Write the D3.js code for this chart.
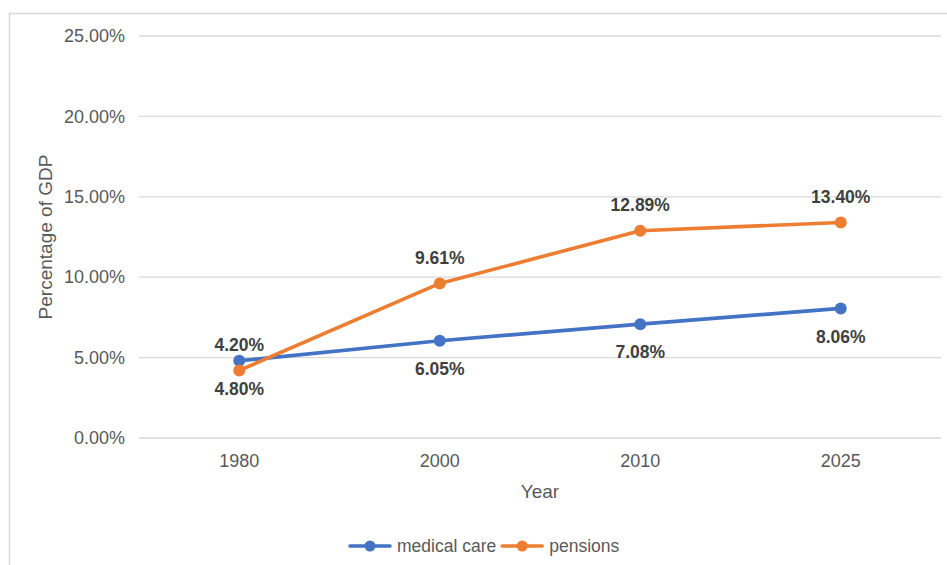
<!DOCTYPE html>
<html>
<head>
<meta charset="utf-8">
<script src="https://cdn.jsdelivr.net/npm/d3@7"></script>
<style>
  html, body { margin: 0; padding: 0; background: #fff; }
  svg { display: block; font-family: "Liberation Sans", Arial, Helvetica, sans-serif; }
</style>
</head>
<body>
<svg id="chart" width="947" height="565"></svg>
<script>
// Years on the category axis
const years = ["1980", "2000", "2010", "2025"];
// Share of GDP per series
const medicalCare = [0.0480, 0.0605, 0.0708, 0.0806];
const pensions = [0.0420, 0.0961, 0.1289, 0.1340];
// Value axis ticks
const yTicks = [0, 0.05, 0.10, 0.15, 0.20, 0.25];

const series = [
  { name: "medical care", values: medicalCare, color: "#4472C4", labelDy: 28 },
  { name: "pensions", values: pensions, color: "#ED7D31", labelDy: -26 }
];

const svg = d3.select("#chart");
const W = 947, H = 565;

// Chart frame (left and top edges show inside the window)
svg.append("path")
  .attr("d", `M9.5,${H} V13.5 H${W}`)
  .attr("fill", "none")
  .attr("stroke", "#D9D9D9")
  .attr("stroke-width", 1.5);

const plot = { left: 139, right: 941, top: 36, bottom: 438 };

const x = d3.scaleBand().domain(years).range([plot.left, plot.right]);
const y = d3.scaleLinear().domain([0, 0.25]).range([plot.bottom, plot.top]);
const fmt = d3.format(".2%");

// Horizontal gridlines
svg.append("g")
  .selectAll("line")
  .data(yTicks)
  .join("line")
  .attr("x1", plot.left).attr("x2", plot.right)
  .attr("y1", d => y(d)).attr("y2", d => y(d))
  .attr("stroke", "#D9D9D9")
  .attr("stroke-width", 1.3);

// Value axis labels
const yAxis = svg.append("g")
  .attr("transform", `translate(${plot.left - 14},0)`)
  .call(d3.axisLeft(y).tickValues(yTicks).tickFormat(fmt).tickSize(0).tickPadding(0));
yAxis.select(".domain").remove();
yAxis.selectAll("text")
  .attr("font-size", 18)
  .attr("font-family", "\"Liberation Sans\", Arial, Helvetica, sans-serif")
  .attr("fill", "#595959");

// Category axis labels
const xAxis = svg.append("g")
  .attr("transform", `translate(0,${plot.bottom + 16})`)
  .call(d3.axisBottom(x).tickSize(0).tickPadding(0));
xAxis.select(".domain").remove();
xAxis.selectAll("text")
  .attr("font-size", 18)
  .attr("font-family", "\"Liberation Sans\", Arial, Helvetica, sans-serif")
  .attr("fill", "#595959");

// Axis titles
svg.append("text")
  .attr("x", (plot.left + plot.right) / 2)
  .attr("y", 498)
  .attr("text-anchor", "middle")
  .attr("font-size", 19)
  .attr("fill", "#595959")
  .text("Year");

svg.append("text")
  .attr("transform", `translate(52,${(plot.top + plot.bottom) / 2}) rotate(-90)`)
  .attr("text-anchor", "middle")
  .attr("font-size", 19)
  .attr("fill", "#595959")
  .text("Percentage of GDP");

const cx = (d, i) => x(years[i]) + x.bandwidth() / 2;
const line = d3.line().x((d, i) => cx(d, i)).y(d => y(d));

series.forEach(s => {
  const g = svg.append("g");
  g.append("path")
    .datum(s.values)
    .attr("d", line)
    .attr("fill", "none")
    .attr("stroke", s.color)
    .attr("stroke-width", 3.6)
    .attr("stroke-linejoin", "round")
    .attr("stroke-linecap", "round");
  g.selectAll("circle")
    .data(s.values)
    .join("circle")
    .attr("cx", cx)
    .attr("cy", d => y(d))
    .attr("r", 6)
    .attr("fill", s.color);
  g.selectAll("text")
    .data(s.values)
    .join("text")
    .attr("x", cx)
    .attr("y", d => y(d) + s.labelDy)
    .attr("dy", "0.35em")
    .attr("text-anchor", "middle")
    .attr("font-size", 17.5)
    .attr("font-weight", "bold")
    .attr("fill", "#404040")
    .text(d => fmt(d));
});

// Legend
const legend = svg.append("g").attr("transform", "translate(350,546)");
let offset = 0;
series.forEach(s => {
  const item = legend.append("g").attr("transform", `translate(${offset},0)`);
  item.append("line")
    .attr("x1", 0).attr("x2", 40)
    .attr("y1", 0).attr("y2", 0)
    .attr("stroke", s.color)
    .attr("stroke-width", 3.6)
    .attr("stroke-linecap", "round");
  item.append("circle").attr("cx", 20).attr("cy", 0).attr("r", 5.5).attr("fill", s.color);
  const t = item.append("text")
    .attr("x", 47)
    .attr("y", 0)
    .attr("dy", "0.35em")
    .attr("font-size", 17.5)
    .attr("fill", "#595959")
    .text(s.name);
  offset += 47 + t.node().getComputedTextLength() + 6;
});
</script>
</body>
</html>
